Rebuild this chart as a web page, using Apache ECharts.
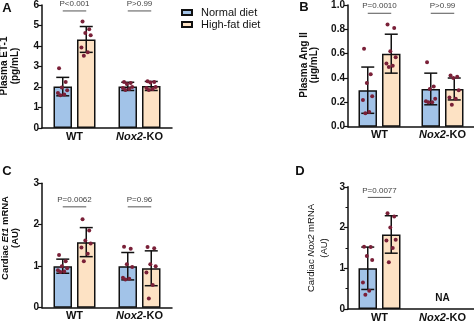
<!DOCTYPE html>
<html>
<head>
<meta charset="utf-8">
<script src="https://cdn.jsdelivr.net/npm/echarts@6/dist/echarts.min.js"></script>
<style>
  html, body { margin: 0; padding: 0; background: #fff; }
  #chart { width: 474px; height: 323px; }
</style>
</head>
<body>
<div id="chart"></div>
<script>
// Genotype groups on every x axis
const groups = ['WT', 'Nox2-KO'];
const diets = ['Normal diet', 'High-fat diet'];

// A: plasma ET-1 (pg/mL) — mean, SD and individual animals per genotype
const etNormalMean = [2.02, 2.03];
const etNormalSd = [0.45, 0.20];
const etHighFatMean = [4.32, 2.05];
const etHighFatSd = [0.63, 0.22];
const etNormalPts = [[2.92, 2.25, 1.97, 1.84, 1.71, 1.63, 1.60], [2.25, 2.20, 2.15, 2.00, 1.95, 1.90, 1.85]];
const etHighFatPts = [[5.19, 4.82, 4.63, 4.53, 3.93, 3.69, 3.53], [2.28, 2.25, 2.22, 2.00, 1.95, 1.90, 1.85]];
const etPText = ['P<0.001', 'P>0.99'];
const etPLevel = 5.71;

// B: plasma Ang II (µg/mL)
const angNormalMean = [0.30, 0.31];
const angNormalSd = [0.19, 0.13];
const angHighFatMean = [0.60, 0.31];
const angHighFatSd = [0.16, 0.09];
const angNormalPts = [[0.64, 0.43, 0.36, 0.25, 0.22, 0.12, 0.11], [0.53, 0.33, 0.31, 0.23, 0.21, 0.20, 0.20]];
const angHighFatPts = [[0.84, 0.81, 0.62, 0.57, 0.52, 0.50, 0.49], [0.42, 0.41, 0.40, 0.30, 0.24, 0.23, 0.18]];
const angPText = ['P=0.0010', 'P>0.99'];
const angPLevel = 0.932;

// C: cardiac Et1 mRNA (AU)
const et1NormalMean = [1.00, 1.00];
const et1NormalSd = [0.17, 0.33];
const et1HighFatMean = [1.58, 0.95];
const et1HighFatSd = [0.35, 0.42];
const et1NormalPts = [[1.27, 1.12, 1.00, 0.95, 0.90, 0.87, 0.86], [1.47, 1.42, 1.05, 0.98, 0.72, 0.70, 0.68]];
const et1HighFatPts = [[2.13, 1.86, 1.62, 1.55, 1.45, 1.30, 1.12], [1.46, 1.43, 1.05, 1.00, 0.85, 0.55, 0.22]];
const et1PText = ['P=0.0062', 'P=0.96'];
const et1PLevel = 2.43;

// D: cardiac Nox2 mRNA (AU) — not measurable in the knockout
const nox2NormalMean = [1.00, null];
const nox2NormalSd = [0.52, null];
const nox2HighFatMean = [1.83, null];
const nox2HighFatSd = [0.46, null];
const nox2NormalPts = [[1.53, 1.52, 1.30, 1.20, 0.65, 0.45, 0.35], []];
const nox2HighFatPts = [[2.35, 2.27, 2.00, 1.70, 1.68, 1.50, 1.15], []];
const nox2PText = ['P=0.0077', null];
const nox2PLevel = 2.74;
const nox2NaLevel = 0.27;

const FONT = '"Liberation Sans", Arial, Helvetica, sans-serif';
const NORMAL_FILL = '#a2c3e8';
const HIGHFAT_FILL = '#fde2c4';
const INK = '#111';
const DOT = '#7a2038';
const BAR_W = 18.5;
const BAR_GAP = 0.27;
const HALF = BAR_W * (1 + BAR_GAP) / 2;
const JITTER = [-0.2, 0.16, -0.05, 0.24, -0.26, 0.08, -0.13];

const panels = [
  { grid: { left: 42, top: 4, width: 130, height: 124 }, min: 0, max: 6, interval: 1, digits: 0, minor: false,
    nMean: etNormalMean, nSd: etNormalSd, hMean: etHighFatMean, hSd: etHighFatSd,
    nPts: etNormalPts, hPts: etHighFatPts, pText: etPText, pLevel: etPLevel },
  { grid: { left: 348, top: 3.3, width: 128, height: 123.4 }, min: 0, max: 1, interval: 0.2, digits: 1, minor: false,
    nMean: angNormalMean, nSd: angNormalSd, hMean: angHighFatMean, hSd: angHighFatSd,
    nPts: angNormalPts, hPts: angHighFatPts, pText: angPText, pLevel: angPLevel },
  { grid: { left: 42, top: 183.2, width: 130, height: 124.5 }, min: 0, max: 3, interval: 1, digits: 0, minor: false,
    nMean: et1NormalMean, nSd: et1NormalSd, hMean: et1HighFatMean, hSd: et1HighFatSd,
    nPts: et1NormalPts, hPts: et1HighFatPts, pText: et1PText, pLevel: et1PLevel },
  { grid: { left: 348, top: 186.8, width: 128, height: 124.2 }, min: 0, max: 3, interval: 1, digits: 0, minor: true,
    nMean: nox2NormalMean, nSd: nox2NormalSd, hMean: nox2HighFatMean, hSd: nox2HighFatSd,
    nPts: nox2NormalPts, hPts: nox2HighFatPts, pText: nox2PText, pLevel: nox2PLevel, na: nox2NaLevel }
];

const grids = [], xAxes = [], yAxes = [], series = [];

panels.forEach((p, i) => {
  grids.push(Object.assign({ containLabel: false }, p.grid));

  xAxes.push({
    type: 'category', gridIndex: i, data: groups,
    axisLine: { lineStyle: { color: INK, width: 1.5 } },
    axisTick: { show: false },
    axisLabel: {
      margin: 3, interval: 0, hideOverlap: false,
      formatter: v => v === 'Nox2-KO' ? '{i|Nox2}{b|-KO}' : '{b|' + v + '}',
      rich: {
        b: { fontFamily: FONT, fontSize: 11, fontWeight: 'bold', color: INK },
        i: { fontFamily: FONT, fontSize: 11, fontWeight: 'bold', fontStyle: 'italic', color: INK }
      }
    }
  });

  yAxes.push({
    type: 'value', gridIndex: i, min: p.min, max: p.max, interval: p.interval,
    axisLine: { show: true, lineStyle: { color: INK, width: 1.5 } },
    axisTick: { show: true, length: 4, lineStyle: { color: INK, width: 1.2 } },
    minorTick: { show: p.minor, splitNumber: 2, length: 2.5, lineStyle: { color: INK, width: 1 } },
    splitLine: { show: false },
    axisLabel: {
      margin: 3, fontFamily: FONT, fontSize: 10, fontWeight: 'bold', color: INK,
      formatter: v => v.toFixed(p.digits)
    }
  });

  // bars: group means
  series.push({
    type: 'bar', name: diets[0], xAxisIndex: i, yAxisIndex: i,
    data: p.nMean, barWidth: BAR_W, barGap: (BAR_GAP * 100) + '%', z: 2,
    itemStyle: { color: NORMAL_FILL, borderColor: INK, borderWidth: 1.5 }
  });
  series.push({
    type: 'bar', name: diets[1], xAxisIndex: i, yAxisIndex: i,
    data: p.hMean, barWidth: BAR_W, barGap: (BAR_GAP * 100) + '%', z: 2,
    itemStyle: { color: HIGHFAT_FILL, borderColor: INK, borderWidth: 1.5 }
  });

  // SD error bars
  const errData = [];
  groups.forEach((g, gi) => {
    if (p.nMean[gi] != null) errData.push([gi, 0, p.nMean[gi], p.nSd[gi]]);
    if (p.hMean[gi] != null) errData.push([gi, 1, p.hMean[gi], p.hSd[gi]]);
  });
  series.push({
    type: 'custom', xAxisIndex: i, yAxisIndex: i, z: 3, silent: true,
    encode: { x: 0, y: 2 }, data: errData,
    renderItem: (params, api) => {
      const g = api.value(0), d = api.value(1), m = api.value(2), s = api.value(3);
      const x = api.coord([g, m])[0] + (d ? HALF : -HALF);
      const yT = api.coord([g, m + s])[1];
      const yB = api.coord([g, m - s])[1];
      const cap = 6.5;
      const st = { stroke: INK, lineWidth: 1.5 };
      return { type: 'group', children: [
        { type: 'line', shape: { x1: x, y1: yT, x2: x, y2: yB }, style: st },
        { type: 'line', shape: { x1: x - cap, y1: yT, x2: x + cap, y2: yT }, style: st },
        { type: 'line', shape: { x1: x - cap, y1: yB, x2: x + cap, y2: yB }, style: st }
      ] };
    }
  });

  // individual animals
  const ptData = [];
  groups.forEach((g, gi) => {
    p.nPts[gi].forEach((v, k) => ptData.push([gi, 0, v, k]));
    p.hPts[gi].forEach((v, k) => ptData.push([gi, 1, v, k]));
  });
  series.push({
    type: 'custom', xAxisIndex: i, yAxisIndex: i, z: 4, silent: true,
    encode: { x: 0, y: 2 }, data: ptData,
    renderItem: (params, api) => {
      const g = api.value(0), d = api.value(1), v = api.value(2), k = api.value(3);
      const c = api.coord([g, v]);
      const x = c[0] + (d ? HALF : -HALF) + JITTER[k % JITTER.length] * BAR_W;
      return { type: 'circle', shape: { cx: x, cy: c[1], r: 2 }, style: { fill: DOT } };
    }
  });

  // comparison brackets with P values
  const pData = [];
  p.pText.forEach((t, gi) => { if (t) pData.push([gi, p.pLevel, gi]); });
  series.push({
    type: 'custom', xAxisIndex: i, yAxisIndex: i, z: 4, silent: true, clip: false,
    encode: { x: 0, y: 1 }, data: pData,
    renderItem: (params, api) => {
      const g = api.value(0), lv = api.value(1), ti = api.value(2);
      const c = api.coord([g, lv]);
      return { type: 'group', children: [
        { type: 'line', shape: { x1: c[0] - HALF, y1: c[1], x2: c[0] + HALF, y2: c[1] },
          style: { stroke: '#555', lineWidth: 1 } },
        { type: 'text', x: c[0], y: c[1] - 7,
          style: { text: p.pText[ti], align: 'center', verticalAlign: 'middle',
                   font: '8px ' + FONT, fill: '#444' } }
      ] };
    }
  });

  if (p.na != null) {
    series.push({
      type: 'custom', xAxisIndex: i, yAxisIndex: i, z: 4, silent: true,
      encode: { x: 0, y: 1 }, data: [[1, p.na]],
      renderItem: (params, api) => {
        const c = api.coord([api.value(0), api.value(1)]);
        return { type: 'text', x: c[0], y: c[1],
                 style: { text: 'NA', align: 'center', verticalAlign: 'middle',
                          font: 'bold 10px ' + FONT, fill: INK } };
      }
    });
  }
});

// rotated axis titles and panel letters
function yTitle(x, y, text, size, lh, weight) {
  const base = { fontFamily: FONT, fontSize: size, fontWeight: weight, lineHeight: lh, align: 'center', fill: INK, color: INK };
  return {
    type: 'text', x: x, y: y, rotation: Math.PI / 2, silent: true,
    style: {
      text: text, align: 'center', verticalAlign: 'middle',
      font: weight + ' ' + size + 'px ' + FONT, lineHeight: lh, fill: INK,
      rich: { n: base, i: Object.assign({}, base, { fontStyle: 'italic' }) }
    }
  };
}
function letter(x, y, t) {
  return { type: 'text', x: x, y: y, silent: true,
    style: { text: t, align: 'center', verticalAlign: 'middle', font: 'bold 13px ' + FONT, fill: INK } };
}

const option = {
  animation: false,
  backgroundColor: '#fff',
  grid: grids, xAxis: xAxes, yAxis: yAxes, series: series,
  legend: {
    data: diets, orient: 'vertical', left: 181, top: 7, itemGap: 1, padding: 0,
    icon: 'rect', itemWidth: 10, itemHeight: 5,
    textStyle: { fontFamily: FONT, fontSize: 11, color: INK, padding: [0, 0, 0, 4] },
    selectedMode: false
  },
  graphic: [
    letter(7, 8, 'A'), letter(304, 7, 'B'), letter(7, 171, 'C'), letter(300, 171, 'D'),
    yTitle(9.5, 66, '{n|Plasma ET-1}\n{n|(pg/mL)}', 10, 11, 'bold'),
    yTitle(309, 65, '{n|Plasma Ang II}\n{n|(µg/mL)}', 10, 10.5, 'bold'),
    yTitle(10.5, 238, '{n|Cardiac }{i|Et1}{n| mRNA}\n{n|(AU)}', 9.5, 10, 'bold'),
    yTitle(318, 248, '{n|Cardiac }{i|Nox2}{n| mRNA}\n{n|(AU)}', 9.5, 13, 'normal')
  ]
};

const chart = echarts.init(document.getElementById('chart'), null, { renderer: 'canvas' });
chart.setOption(option);
</script>
</body>
</html>
